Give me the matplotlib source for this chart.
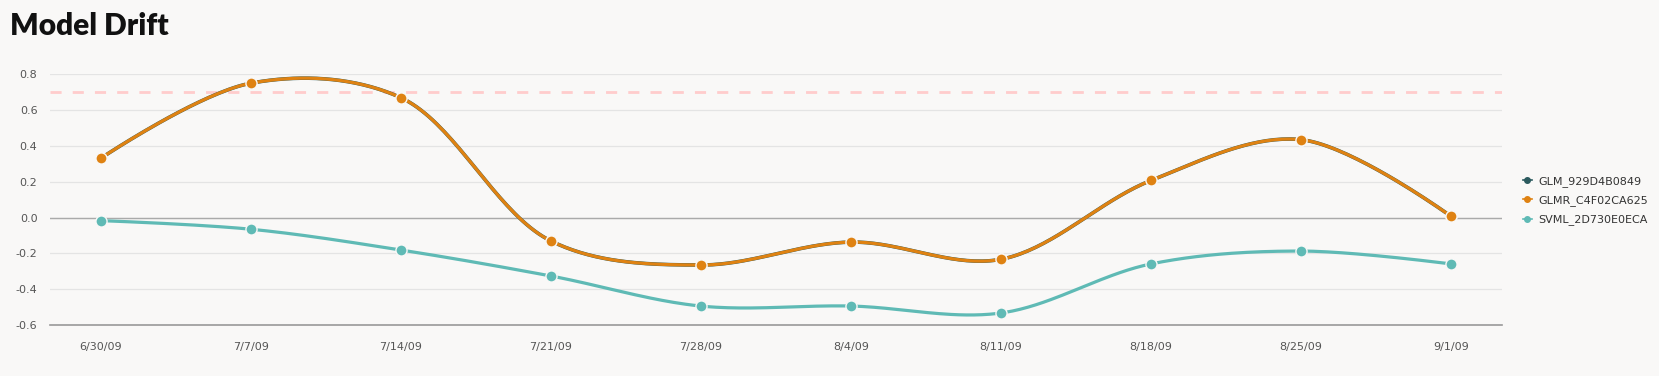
import numpy as np
import matplotlib
matplotlib.use('Agg')
import matplotlib.pyplot as plt

# values
dates = ['6/30/09', '7/7/09', '7/14/09', '7/21/09', '7/28/09',
         '8/4/09', '8/11/09', '8/18/09', '8/25/09', '9/1/09']
glm = [0.33, 0.75, 0.67, -0.13, -0.265, -0.137, -0.233, 0.207, 0.435, 0.007]
glmr = [0.33, 0.75, 0.67, -0.13, -0.265, -0.137, -0.233, 0.207, 0.435, 0.007]
svml = [-0.017, -0.065, -0.181, -0.326, -0.494, -0.494, -0.533, -0.259, -0.187, -0.259]
threshold = 0.7
yticks = [-0.6, -0.4, -0.2, 0.0, 0.2, 0.4, 0.6, 0.8]

BG = '#f9f8f7'
# approx pixels per data unit, so the curve is shaped in screen space
SX, SY = 150.0, 179.5


def catmull_rom(x, y, alpha=0.5, steps=40):
    # d3 curveCatmullRom (centripetal) through the data points
    P = np.column_stack([np.asarray(x, float) * SX, np.asarray(y, float) * SY])
    n = len(P)
    t = np.linspace(0, 1, steps)
    out = []
    for i in range(n - 1):
        p0 = P[i - 1] if i > 0 else P[i]
        p1, p2 = P[i], P[i + 1]
        p3 = P[i + 2] if i + 2 < n else P[i + 1]
        d01 = np.linalg.norm(p1 - p0) ** (2 * alpha)
        d12 = np.linalg.norm(p2 - p1) ** (2 * alpha)
        d23 = np.linalg.norm(p3 - p2) ** (2 * alpha)
        l01, l12, l23 = np.sqrt(d01), np.sqrt(d12), np.sqrt(d23)
        c1 = p1.copy()
        if l01 > 1e-9:
            a = 2 * d01 + 3 * l01 * l12 + d12
            m = 3 * l01 * (l01 + l12)
            c1 = (p1 * a - p0 * d12 + p2 * d01) / m
        c2 = p2.copy()
        if l23 > 1e-9:
            b = 2 * d23 + 3 * l23 * l12 + d12
            m = 3 * l23 * (l23 + l12)
            c2 = (p2 * b + p1 * d23 - p3 * d12) / m
        pts = ((1 - t) ** 3)[:, None] * p1 + (3 * (1 - t) ** 2 * t)[:, None] * c1 \
            + (3 * (1 - t) * t ** 2)[:, None] * c2 + (t ** 3)[:, None] * p2
        out.append(pts)
    out = np.vstack(out)
    return out[:, 0] / SX, out[:, 1] / SY


fig = plt.figure(figsize=(16.59, 3.76), dpi=100, facecolor=BG)
ax = fig.add_axes([0.0301, 0.1356, 0.8753, 0.6668], facecolor=BG)

xpos = np.arange(len(dates))
series = [('GLM_929D4B0849', glm, '#2b5a5e', 2.6, 2),
          ('GLMR_C4F02CA625', glmr, '#df8212', 2.3, 3),
          ('SVML_2D730E0ECA', svml, '#5fbab5', 2.3, 3)]
handles = []
for name, vals, col, lw, z in series:
    cx, cy = catmull_rom(xpos, vals)
    ax.plot(cx, cy, color=col, lw=lw, zorder=z, solid_capstyle='round')
    ax.plot(xpos, vals, 'o', color=col, ms=8, mec=BG, mew=1, zorder=z + 0.5)
    h, = ax.plot([], [], '-o', color=col, lw=1.2, ms=4, label=name)
    handles.append(h)

ax.axhline(threshold, color='#ffcccc', lw=2, dashes=(4, 4), zorder=1)

ax.set_xlim(-0.337, 9.34)
ax.set_ylim(-0.6, 0.8)
ax.set_xticks(xpos)
ax.set_xticklabels(dates)
ax.set_yticks(yticks)
ax.set_yticklabels(['%.1f' % v for v in yticks])
ax.tick_params(length=0, labelsize=8, labelcolor='#555555')
ax.tick_params(axis='x', pad=12)
ax.tick_params(axis='y', pad=9)
for s in ['left', 'right', 'top']:
    ax.spines[s].set_visible(False)
ax.spines['bottom'].set_color('#999999')
ax.spines['bottom'].set_linewidth(1.2)
ax.grid(axis='y', color='#e4e4e4', lw=0.9)
ax.set_axisbelow(True)
ax.axhline(0, color='#aaaaaa', lw=1, zorder=1)

fig.text(0.006, 0.93, 'Model Drift', fontsize=21.5, fontweight='heavy',
         family=['Lato', 'DejaVu Sans'], color='#111111', va='center')

fig.legend(handles=handles, loc='center left', bbox_to_anchor=(0.912, 0.466),
           frameon=False, fontsize=8, handlelength=0.8, handletextpad=0.6,
           labelspacing=0.75, labelcolor='#333333')

plt.savefig('out.png', dpi=100, facecolor=BG)
